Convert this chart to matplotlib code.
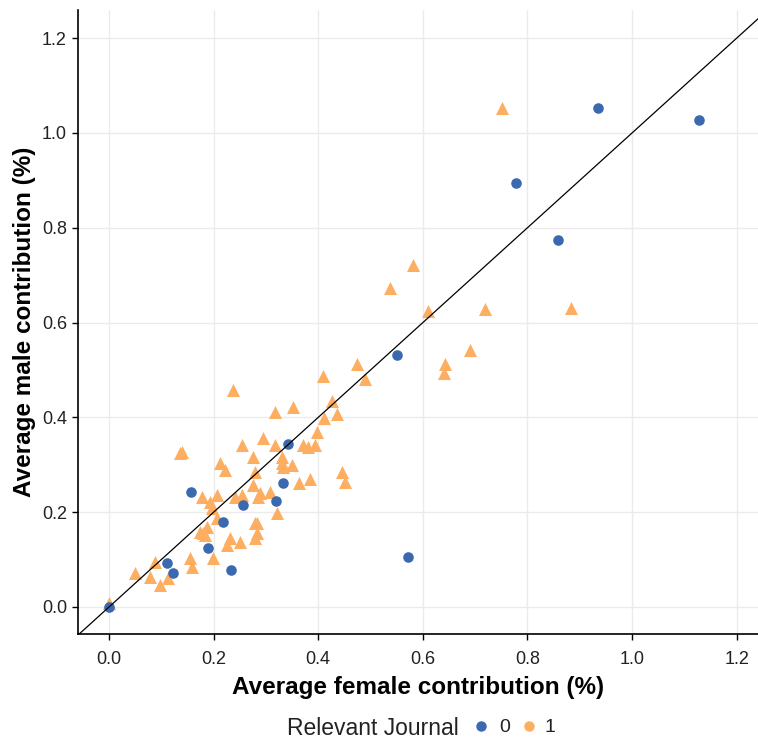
import matplotlib
matplotlib.use("Agg")
import matplotlib.pyplot as plt
from matplotlib.lines import Line2D

plt.rcParams['font.family'] = ['Liberation Sans', 'DejaVu Sans']

# Relevant Journal = 0 (blue circles)
female_0 = [0.935, 1.128, 0.778, 0.859, 0.551, 0.572, 0.342, 0.333, 0.319, 0.256,
            0.157, 0.218, 0.189, 0.233, 0.111, 0.122, 0.0]
male_0 = [1.053, 1.027, 0.895, 0.774, 0.532, 0.105, 0.344, 0.262, 0.224, 0.215,
          0.243, 0.179, 0.124, 0.078, 0.093, 0.072, 0.0]

# Relevant Journal = 1 (orange triangles)
female_1 = [0.751, 0.581, 0.537, 0.883, 0.719, 0.610, 0.690, 0.642, 0.641, 0.474,
            0.489, 0.409, 0.426, 0.237, 0.317, 0.352, 0.436, 0.411, 0.398, 0.294,
            0.317, 0.371, 0.394, 0.380, 0.254, 0.275, 0.331, 0.331, 0.350, 0.333,
            0.279, 0.446, 0.451, 0.384, 0.363, 0.275, 0.289, 0.308, 0.285, 0.254,
            0.321, 0.283, 0.140, 0.136, 0.212, 0.222, 0.206, 0.178, 0.193, 0.197,
            0.241, 0.206, 0.187, 0.180, 0.279, 0.283, 0.279, 0.231, 0.250, 0.226,
            0.174, 0.183, 0.155, 0.159, 0.088, 0.050, 0.078, 0.098, 0.113, 0.199,
            0.0]
male_1 = [1.053, 0.722, 0.673, 0.631, 0.629, 0.624, 0.542, 0.513, 0.494, 0.513,
          0.481, 0.487, 0.435, 0.458, 0.411, 0.422, 0.407, 0.399, 0.369, 0.357,
          0.342, 0.342, 0.342, 0.338, 0.342, 0.316, 0.316, 0.304, 0.300, 0.295,
          0.285, 0.285, 0.264, 0.270, 0.262, 0.257, 0.240, 0.243, 0.232, 0.236,
          0.198, 0.177, 0.327, 0.325, 0.304, 0.289, 0.236, 0.232, 0.222, 0.209,
          0.232, 0.188, 0.169, 0.156, 0.177, 0.156, 0.146, 0.146, 0.137, 0.131,
          0.158, 0.152, 0.103, 0.084, 0.095, 0.072, 0.063, 0.046, 0.061, 0.103,
          0.008]

ticks = [0.0, 0.2, 0.4, 0.6, 0.8, 1.0, 1.2]
tick_labels = ['0.0', '0.2', '0.4', '0.6', '0.8', '1.0', '1.2']
legend_labels = ['0', '1']

blue = '#3A69AF'
orange = '#FDAE61'

fig = plt.figure(figsize=(7.58, 7.46), dpi=100)
ax = fig.add_axes([78/758, 112/746, 680/758, 624/746])

ax.set_xlim(-0.0593, 1.2409)
ax.set_ylim(-0.057, 1.2595)

ax.scatter(female_1, male_1, marker='^', s=88, color=orange, linewidths=0, zorder=3)
ax.scatter(female_0, male_0, marker='o', s=58, color=blue, linewidths=0, zorder=3)
ax.axline((0, 0), slope=1, color='black', lw=0.9, zorder=4)

ax.set_xticks(ticks)
ax.set_xticklabels(tick_labels)
ax.set_yticks(ticks)
ax.set_yticklabels(tick_labels)
ax.grid(True, color='#EBEBEB', lw=1.0, zorder=0)
ax.set_axisbelow(True)

for s in ['top', 'right']:
    ax.spines[s].set_visible(False)
for s in ['left', 'bottom']:
    ax.spines[s].set_color('black')
    ax.spines[s].set_linewidth(1.2)
ax.tick_params(axis='both', direction='out', length=4, width=1, color='black',
               labelsize=13, labelcolor='#222222')
ax.tick_params(axis='x', pad=8)
ax.tick_params(axis='y', pad=4)

ax.set_xlabel('Average female contribution (%)', fontsize=17.5, fontweight='bold', labelpad=6)
ax.set_ylabel('Average male contribution (%)', fontsize=17.5, fontweight='bold', labelpad=4)

# Legend (drawn manually to match ggplot's horizontal bottom legend)
ly = 1 - 726/746
fig.text(287/758, ly, 'Relevant Journal', fontsize=16.5, va='center_baseline', ha='left', color='#222222')
for col, lab, mx, tx in [(blue, legend_labels[0], 481, 499), (orange, legend_labels[1], 529, 545)]:
    fig.add_artist(Line2D([mx/758], [ly], transform=fig.transFigure, marker='o', ls='',
                          color=col, markersize=6.5))
    fig.text(tx/758, ly, lab, fontsize=14, va='center_baseline', ha='left', color='#222222')

fig.savefig('out.png', dpi=100)
